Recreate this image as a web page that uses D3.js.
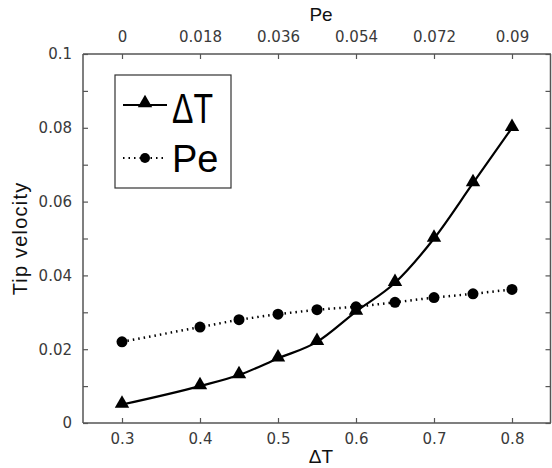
<!DOCTYPE html>
<html lang="en">
  <head>
    <meta charset="UTF-8" />
    <title>Tip velocity</title>
    <style>
      body {
        margin: 0;
        background: #fff;
      }
      svg {
        display: block;
      }
      text {
        font-family: "Liberation Sans", Arial, sans-serif;
      }
      .tick text {
        font-family: "DejaVu Sans", sans-serif;
      }
    </style>
  </head>
  <body>
    <script src="https://cdn.jsdelivr.net/npm/d3@7"></script>
    <script>
      // data
      const deltaT = [0.3, 0.4, 0.45, 0.5, 0.55, 0.6, 0.65, 0.7, 0.75, 0.8];
      const vitesse_dT = [0.005, 0.01, 0.013, 0.0175, 0.022, 0.0302, 0.038, 0.05, 0.065, 0.08];
      const peclet = [0, 0.018, 0.027, 0.036, 0.045, 0.054, 0.063, 0.072, 0.081, 0.09];
      const vitesse_pe = [0.022, 0.026, 0.028, 0.0295, 0.0307, 0.0315, 0.0327, 0.034, 0.035, 0.0362];
      const ticks_dT = [0.3, 0.4, 0.5, 0.6, 0.7, 0.8];
      const ticks_pe = [0, 0.018, 0.036, 0.054, 0.072, 0.09];
      const ticks_y = [0, 0.01, 0.02, 0.03, 0.04, 0.05, 0.06, 0.07, 0.08, 0.09, 0.1];

      const largeur = 552,
        hauteur = 468;
      const marge = { haut: 54, droite: 1, bas: 45, gauche: 83 };

      const svg = d3
        .select("body")
        .append("svg")
        .attr("width", largeur)
        .attr("height", hauteur);

      const x = d3
        .scaleLinear()
        .domain([0.25, 0.85])
        .range([marge.gauche, largeur - marge.droite]);
      // l'axe du haut : 0 au-dessus de 0.3, 0.09 au-dessus de 0.8
      const xPe = d3
        .scaleLinear()
        .domain([0, 0.09])
        .range([x(0.3), x(0.8)]);
      const y = d3
        .scaleLinear()
        .domain([0, 0.1])
        .range([hauteur - marge.bas, marge.haut]);

      const gris = "#555";
      const gris_texte = "#3a3a3a";

      // axes
      const axeBas = svg
        .append("g")
        .attr("transform", `translate(0,${y(0)})`)
        .call(d3.axisBottom(x).tickValues(ticks_dT).tickSize(-5).tickPadding(10).tickFormat(d3.format("")));
      const axeHaut = svg
        .append("g")
        .attr("transform", `translate(0,${y(0.1)})`)
        .call(d3.axisTop(xPe).tickValues(ticks_pe).tickSize(-5).tickPadding(12).tickFormat(d3.format("")));
      const axeGauche = svg
        .append("g")
        .attr("transform", `translate(${x(0.25)},0)`)
        .call(
          d3
            .axisLeft(y)
            .tickValues(ticks_y)
            .tickSize(-5)
            .tickPadding(11)
            .tickFormat((d) => (Math.round(d * 1000) % 20 === 0 ? d3.format("")(+d.toFixed(2)) : ""))
        );
      const axeDroit = svg
        .append("g")
        .attr("transform", `translate(${x(0.85) - 0.5},0)`)
        .call(d3.axisRight(y).tickValues(ticks_y).tickSize(-5).tickFormat(""));

      [axeBas, axeHaut, axeGauche, axeDroit].forEach((a) => {
        a.select(".domain").attr("stroke", gris).attr("stroke-width", 1.5);
        a.selectAll(".tick line").attr("stroke", gris).attr("stroke-width", 1.2);
        a.selectAll(".tick text")
          .attr("fill", gris_texte)
          .style("font-size", "15px");
      });
      axeGauche.select(".domain").attr("d", `M0,${y(0)}V${y(0.1)}`);
      axeDroit.select(".domain").attr("d", `M0,${y(0)}V${y(0.1)}`);
      axeBas.select(".domain").attr("d", `M${x(0.25)},0H${x(0.85)}`);
      axeHaut.select(".domain").attr("d", `M${x(0.25)},0H${x(0.85)}`);

      // titres
      svg
        .append("text")
        .attr("x", 321)
        .attr("y", 21)
        .attr("text-anchor", "middle")
        .style("font-size", "19px")
        .attr("fill", "#111")
        .text("Pe");
      svg
        .append("text")
        .attr("x", 321)
        .attr("y", 463)
        .attr("text-anchor", "middle")
        .style("font-size", "19px")
        .attr("fill", "#111")
        .text("ΔT");
      svg
        .append("text")
        .attr("transform", `translate(27,${(y(0) + y(0.1)) / 2}) rotate(-90)`)
        .attr("text-anchor", "middle")
        .style("font-size", "20px")
        .style("letter-spacing", "1.2px")
        .attr("fill", "#111")
        .text("Tip velocity");

      // courbes
      const triangle = d3.symbol().type(d3.symbolTriangle).size(90);

      const ligne_dT = d3
        .line()
        .x((d, i) => x(deltaT[i]))
        .y((d) => y(d))
        .curve(d3.curveMonotoneX);
      svg
        .append("path")
        .datum(vitesse_dT)
        .attr("d", ligne_dT)
        .attr("fill", "none")
        .attr("stroke", "#000")
        .attr("stroke-width", 2.2);
      svg
        .selectAll(".tri")
        .data(vitesse_dT)
        .enter()
        .append("path")
        .attr("class", "tri")
        .attr("d", triangle)
        .attr("transform", (d, i) => `translate(${x(deltaT[i])},${y(d) - 1})`)
        .attr("fill", "#000");

      const ligne_pe = d3
        .line()
        .x((d, i) => xPe(peclet[i]))
        .y((d) => y(d));
      svg
        .append("path")
        .datum(vitesse_pe)
        .attr("d", ligne_pe)
        .attr("fill", "none")
        .attr("stroke", "#000")
        .attr("stroke-width", 2.5)
        .attr("stroke-dasharray", "1.5 4");
      svg
        .selectAll(".rond")
        .data(vitesse_pe)
        .enter()
        .append("circle")
        .attr("class", "rond")
        .attr("cx", (d, i) => xPe(peclet[i]))
        .attr("cy", (d) => y(d))
        .attr("r", 5.5)
        .attr("fill", "#000");

      // légende
      const legende = svg.append("g");
      legende
        .append("rect")
        .attr("x", 115)
        .attr("y", 75)
        .attr("width", 116)
        .attr("height", 113)
        .attr("fill", "#fff")
        .attr("stroke", "#333")
        .attr("stroke-width", 1.2);
      legende
        .append("line")
        .attr("x1", 123)
        .attr("x2", 167)
        .attr("y1", 105)
        .attr("y2", 105)
        .attr("stroke", "#000")
        .attr("stroke-width", 2);
      legende
        .append("path")
        .attr("d", triangle)
        .attr("transform", "translate(145,103)")
        .attr("fill", "#000");
      legende
        .append("text")
        .attr("x", 172)
        .attr("y", 123)
        .style("font-size", "43px")
        .attr("textLength", 41)
        .attr("lengthAdjust", "spacingAndGlyphs")
        .attr("fill", "#000")
        .text("ΔT");
      legende
        .append("line")
        .attr("x1", 123)
        .attr("x2", 167)
        .attr("y1", 158)
        .attr("y2", 158)
        .attr("stroke", "#000")
        .attr("stroke-width", 2)
        .attr("stroke-dasharray", "1.5 4");
      legende
        .append("circle")
        .attr("cx", 145)
        .attr("cy", 158)
        .attr("r", 5)
        .attr("fill", "#000");
      legende
        .append("text")
        .attr("x", 172)
        .attr("y", 172)
        .style("font-size", "38px")
        .attr("fill", "#000")
        .text("Pe");
    </script>
  </body>
</html>
